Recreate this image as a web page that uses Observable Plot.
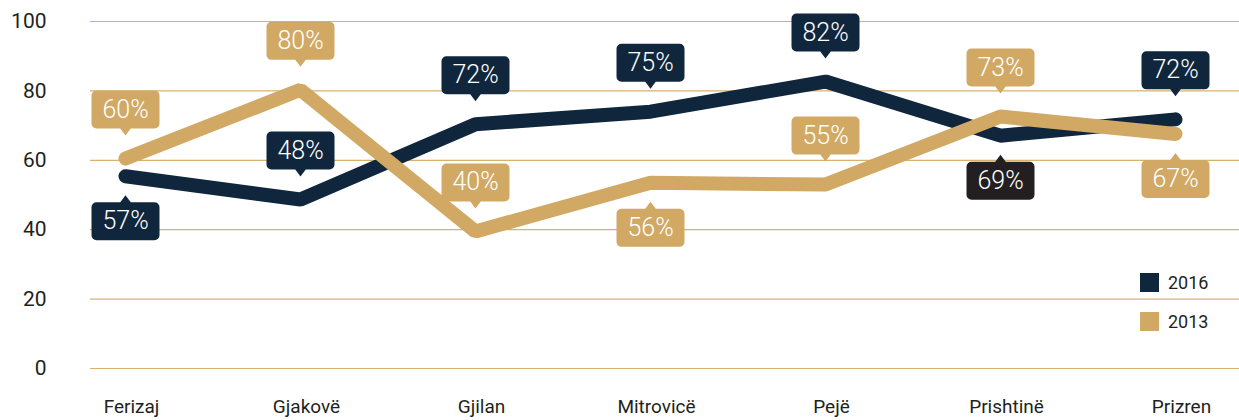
<!DOCTYPE html>
<html>
<head>
<meta charset="utf-8">
<script src="https://cdn.jsdelivr.net/npm/d3@7"></script>
<script src="https://cdn.jsdelivr.net/npm/@observablehq/plot@0.6"></script>
<style>
  body { margin: 0; background: #ffffff; }
  #wrap { position: relative; width: 1239px; height: 420px; font-family: Roboto, "Liberation Sans", sans-serif; overflow: hidden; }
  .legend { position: absolute; left: 1140px; font-size: 18px; color: #231f20; display: flex; align-items: center; }
  .legend span.sw { display: inline-block; width: 19px; height: 19px; margin-right: 9px; }
</style>
</head>
<body>
<div id="wrap"></div>
<script>
// ---- data ----
const cities = ["Ferizaj", "Gjakovë", "Gjilan", "Mitrovicë", "Pejë", "Prishtinë", "Prizren"];
const values2016 = [55.4, 48.7, 70.4, 74.0, 82.7, 67.1, 71.8];
const values2013 = [60.5, 80.3, 39.5, 53.5, 53.0, 72.6, 67.6];
const labels2016 = ["57%", "48%", "72%", "75%", "82%", "69%", "72%"];
const labels2013 = ["60%", "80%", "40%", "56%", "55%", "73%", "67%"];
const yTicks = [0, 20, 40, 60, 80, 100];
const seriesNames = ["2016", "2013"];

// ---- styles / placement ----
const navy = "#0f263d";
const gold = "#d1a964";
const gridColor = "#d8b16c";
const textColor = "#231f20";
const side2016 = ["below", "above", "above", "above", "above", "below", "above"];
const side2013 = ["above", "above", "above", "below", "above", "above", "below"];
const specialFill = { "Prishtinë": "#231f20" };

const rows2016 = cities.map((c, i) => ({ city: c, value: values2016[i], label: labels2016[i], side: side2016[i], fill: specialFill[c] || navy }));
const rows2013 = cities.map((c, i) => ({ city: c, value: values2013[i], label: labels2013[i], side: side2013[i], fill: gold }));
const allRows = rows2016.concat(rows2013);

const GAP_ABOVE = 23, GAP_BELOW = 19, BOX_W = 68, BOX_H = 38, PTR_W = 6, PTR_H = 7, RAD = 5;

function callout(side) {
  return {
    draw(ctx) {
      const above = side === "above";
      const gap = above ? GAP_ABOVE : GAP_BELOW;
      let y0, y1, tip;
      if (above) { tip = -gap; y1 = -(gap + PTR_H); y0 = y1 - BOX_H; }
      else { tip = gap; y0 = gap + PTR_H; y1 = y0 + BOX_H; }
      const x0 = -BOX_W / 2, x1 = BOX_W / 2;
      ctx.moveTo(x0 + RAD, y0);
      ctx.arcTo(x1, y0, x1, y1, RAD);
      ctx.arcTo(x1, y1, x0, y1, RAD);
      ctx.arcTo(x0, y1, x0, y0, RAD);
      ctx.arcTo(x0, y0, x1, y0, RAD);
      ctx.closePath();
      if (above) {
        ctx.moveTo(-PTR_W, y1 - 1);
        ctx.lineTo(PTR_W, y1 - 1);
        ctx.lineTo(0, tip);
        ctx.closePath();
      } else {
        ctx.moveTo(PTR_W, y0 + 1);
        ctx.lineTo(-PTR_W, y0 + 1);
        ctx.lineTo(0, tip);
        ctx.closePath();
      }
    }
  };
}

const above = allRows.filter(d => d.side === "above");
const below = allRows.filter(d => d.side === "below");

const chart = Plot.plot({
  width: 1239,
  height: 420,
  marginLeft: 90,
  marginRight: 0,
  marginTop: 21,
  marginBottom: 52,
  style: { fontFamily: "Roboto, 'Liberation Sans', sans-serif", color: textColor, background: "#ffffff", overflow: "visible" },
  x: { type: "point", domain: cities, padding: 0.268, align: 0.351, label: null },
  y: { domain: [0, 100], label: null },
  color: { type: "identity" },
  marks: [
    Plot.ruleY(yTicks, { stroke: gridColor, strokeWidth: 1.2 }),
    Plot.axisY(yTicks, { tickSize: 0, tickPadding: 44, fontSize: 21, label: null }),
    Plot.axisX({ tickSize: 0, tickPadding: 31, fontSize: 19, dx: 6, label: null }),
    Plot.line(rows2016, { x: "city", y: "value", stroke: navy, strokeWidth: 14, strokeLinecap: "round", strokeLinejoin: "miter" }),
    Plot.line(rows2013, { x: "city", y: "value", stroke: gold, strokeWidth: 14, strokeLinecap: "round", strokeLinejoin: "miter" }),
    Plot.dot(above, { x: "city", y: "value", symbol: callout("above"), fill: "fill", stroke: null }),
    Plot.dot(below, { x: "city", y: "value", symbol: callout("below"), fill: "fill", stroke: null }),
    Plot.text(above, { x: "city", y: "value", text: "label", dy: -(GAP_ABOVE + PTR_H + BOX_H / 2), fill: "#ffffff", fontSize: 25, fontWeight: 300 }),
    Plot.text(below, { x: "city", y: "value", text: "label", dy: (GAP_BELOW + PTR_H + BOX_H / 2), fill: "#ffffff", fontSize: 25, fontWeight: 300 })
  ]
});

const wrap = document.getElementById("wrap");
wrap.appendChild(chart);

const legendColors = [navy, gold];
const legendTops = [272, 311];
seriesNames.forEach((name, i) => {
  const item = document.createElement("div");
  item.className = "legend";
  item.style.top = legendTops[i] + "px";
  const sw = document.createElement("span");
  sw.className = "sw";
  sw.style.background = legendColors[i];
  const t = document.createElement("span");
  t.textContent = name;
  item.appendChild(sw);
  item.appendChild(t);
  wrap.appendChild(item);
});
</script>
</body>
</html>
